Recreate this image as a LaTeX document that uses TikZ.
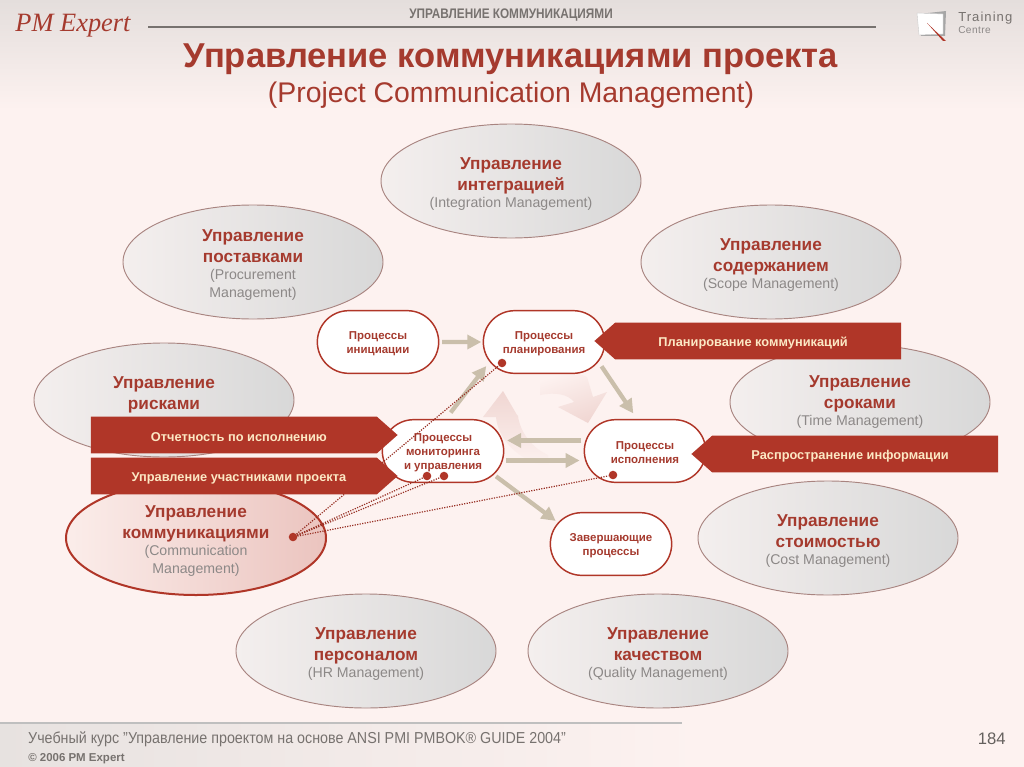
\documentclass[tikz,border=0pt]{standalone}
\usepackage{fontspec}
\setmainfont{Liberation Sans}
\newfontfamily\serifit{Liberation Serif}
\usetikzlibrary{shapes.geometric,shapes.misc,shapes.symbols,arrows.meta}
\definecolor{bgmain}{HTML}{FDF2F0}
\definecolor{brick}{HTML}{B03628}
\definecolor{darkred}{HTML}{A53A2E}
\definecolor{cream}{HTML}{FCE8C4}
\definecolor{tan}{HTML}{CABFAB}
\definecolor{engray}{HTML}{8C8887}
\definecolor{ellborder}{HTML}{A88480}
\definecolor{headgray}{HTML}{77726F}
\definecolor{areaA}{HTML}{F4EFEE}
\definecolor{areaB}{HTML}{D8D8D8}
\definecolor{commA}{HTML}{FBEDEA}
\definecolor{commB}{HTML}{EBC4BF}
\definecolor{topband}{HTML}{E4DEDC}
\definecolor{footband}{HTML}{E7E2E0}
\definecolor{cyclepink}{HTML}{F0D6D2}
\tikzset{
  areabase/.style={ellipse,minimum width=195pt,minimum height=85.5pt,inner sep=0pt,align=center,text=darkred,font=\bfseries\fontsize{12.9}{15.7}\selectfont},
  area/.style={areabase,draw=ellborder,line width=.7pt,shading angle=110,left color=areaA,right color=areaB},
  commarea/.style={areabase,draw=brick,line width=1.5pt,shading angle=110,left color=commA,right color=commB},
  proc/.style={rounded rectangle,draw=brick,line width=1.1pt,fill=white,minimum width=91pt,minimum height=47pt,inner sep=0pt,align=center,text=darkred,font=\bfseries\fontsize{8.6}{10.7}\selectfont},
  banner/.style={signal,signal from=nowhere,signal pointer angle=83,fill=brick,text=cream,font=\bfseries\fontsize{9.6}{11}\selectfont,minimum height=27.5pt,minimum width=230pt,inner sep=0pt},
  flow/.style={draw=tan,line width=3.2pt,-{Triangle[length=10.5pt,width=10.5pt]}},
  dotpin/.style={circle,fill=brick,minimum size=6.4pt,inner sep=0pt},
  dotline/.style={draw=brick!85!black,densely dotted,line width=.9pt},
}
\newcommand{\en}[1]{{\mdseries\fontsize{10.6}{13}\selectfont\color{engray}#1}}
\newcommand{\lifta}{\rule{0pt}{13.3pt}}
\newcommand{\liftp}{\rule{0pt}{8.6pt}}
\newcommand{\bt}{\rule{0pt}{9.5pt}}
\begin{document}
\begin{tikzpicture}[x=.75pt,y=-.75pt]
\useasboundingbox (0,0) rectangle (1024,767);
% background
\fill[bgmain] (0,0) rectangle (1024,767);
\shade[top color=topband,bottom color=bgmain] (0,0) rectangle (1024,110);
\shade[left color=footband,right color=bgmain] (0,724) rectangle (700,767);
% header
\node[font=\serifit\itshape\fontsize{19.8}{22}\selectfont,text=darkred] (brand) at (73,26) {PM Expert};
\node[font=\bfseries\fontsize{10.4}{12}\selectfont,text=headgray,xscale=.85] (section) at (511,15) {УПРАВЛЕНИЕ КОММУНИКАЦИЯМИ};
\draw[headgray,line width=.8pt] (148,27) -- (876,27);
% logo
\fill[gray!70] (919,14) -- (946,11) -- (945,36) -- (921,36) -- cycle;
\fill[white,draw=gray!40,line width=.3pt] (917,13) -- (943,14) -- (943,34) -- (919,35) -- cycle;
\fill[brick] (927,23) -- (946,41) -- (943,41) -- cycle;
\node[font=\fontsize{9.8}{11}\selectfont,text=headgray,anchor=west,inner sep=0pt] (tr) at (958,18) {\addfontfeature{LetterSpace=8}Training};
\node[font=\fontsize{7.6}{9}\selectfont,text=engray,anchor=west,inner sep=0pt] (ce) at (958,30) {\addfontfeature{LetterSpace=4}Centre};
% titles
\node[font=\bfseries\fontsize{25.9}{30}\selectfont,text=darkred] (title) at (511,59) {Управление коммуникациями проекта};
\node[font=\fontsize{21.3}{25}\selectfont,text=darkred] (subtitle) at (511,95) {(Project Communication Management)};
% knowledge areas
\node[area] (integ) at (511,181) {\lifta Управление\\интеграцией\\[-3pt]\en{(Integration Management)}};
\node[area] (proc) at (253,262) {\lifta Управление\\поставками\\[-3pt]\en{(Procurement}\\[-2pt]\en{Management)}};
\node[area] (scope) at (771,262) {\lifta Управление\\содержанием\\[-3pt]\en{(Scope Management)}};
\node[area] (risk) at (164,400) {\lifta Управление\\рисками\\[-3pt]\phantom{\en{(Risk)}}};
\node[area] (time) at (860,402) {Управление\\сроками\\[-3pt]\en{(Time Management)}};
\node[commarea] (comm) at (196,538) {\lifta Управление\\коммуникациями\\[-3pt]\en{(Communication}\\[-2pt]\en{Management)}};
\node[area] (cost) at (828,538) {\lifta Управление\\стоимостью\\[-3pt]\en{(Cost Management)}};
\node[area] (hr) at (366,651) {\lifta Управление\\персоналом\\[-3pt]\en{(HR Management)}};
\node[area] (qual) at (658,651) {\lifta Управление\\качеством\\[-3pt]\en{(Quality Management)}};
% cycle arrows
\shade[left color=bgmain,right color=cyclepink,shading angle=20] (540,376) .. controls (560,372) and (578,372) .. (587,377) -- (593,397) -- (607,392) -- (588,423) -- (558,407) -- (574,402) .. controls (568,394) and (555,392) .. (540,395) -- cycle;
\shade[top color=cyclepink,bottom color=bgmain] (503,391) -- (483,417) -- (496,417) .. controls (498,440) and (520,462) .. (548,466) -- (548,455) .. controls (532,448) and (520,432) .. (518,416) -- (517,415) -- cycle;
% processes
\node[proc] (init) at (378,342) {\liftp Процессы\\инициации};
\node[proc] (plan) at (544,342) {\liftp Процессы\\планирования};
\node[proc] (mon) at (443,451) {\liftp Процессы\\мониторинга\\и управления};
\node[proc] (exec) at (645,451) {\liftp Процессы\\исполнения};
\node[proc] (close) at (611,544) {\liftp Завершающие\\процессы};
% flows
\draw[flow,shorten >=1pt,shorten <=2pt] (init) -- (plan);
\draw[flow,shorten >=4pt,shorten <=6pt] (mon.85) -- (plan.200);
\draw[flow,shorten >=5pt,shorten <=4pt] (plan.-20) -- (exec.104);
\draw[flow,shorten >=2pt,shorten <=3pt] (exec.170.7) -- (exec.170.7 -| mon.east);
\draw[flow,shorten >=3pt,shorten <=2pt] (mon.-9.3) -- (mon.-9.3 -| exec.west);
\draw[flow,shorten >=2pt,shorten <=2pt] (mon.-25) -- (close.158);
% dotted links
\node[dotpin] (dc) at (293,537) {};
\node[dotpin] (dp) at (502,363) {};
\node[dotpin] (dm1) at (427,476) {};
\node[dotpin] (dm2) at (444,476) {};
\node[dotpin] (de) at (613,475) {};
\draw[dotline] (dc) -- (dp);
\draw[dotline] (dc) -- (dm1);
\draw[dotline] (dc) -- (dm2);
\draw[dotline] (dc) -- (de);
% banners
\node[banner,signal to=east,anchor=east] (b1) at (398,435) {\hspace{7.5pt}\bt Отчетность по исполнению};
\node[banner,signal to=east,anchor=east] (b2) at (398,476) {\hspace{7.5pt}\bt Управление участниками проекта};
\node[banner,signal to=west,anchor=west] (b3) at (594,341) {\bt Планирование коммуникаций\hspace{7.5pt}\mbox{}};
\node[banner,signal to=west,anchor=west] (b4) at (691,454) {\bt Распространение информации\hspace{7.5pt}\mbox{}};
% footer
\draw[gray!50,line width=.8pt] (0,723) -- (682,723);
\node[font=\fontsize{11.9}{14}\selectfont,text=headgray,anchor=west,xscale=.9,inner sep=0pt] (course) at (28,739) {Учебный курс "Управление проектом на основе ANSI PMI PMBOK® GUIDE 2004"};
\node[font=\bfseries\fontsize{8.6}{10}\selectfont,text=headgray,anchor=west,inner sep=0pt] (copy) at (28,759) {© 2006 PM Expert};
\node[font=\fontsize{12.5}{14}\selectfont,text=headgray!85!black,anchor=east,inner sep=0pt] (page) at (1006,739) {184};
\end{tikzpicture}
\end{document}
